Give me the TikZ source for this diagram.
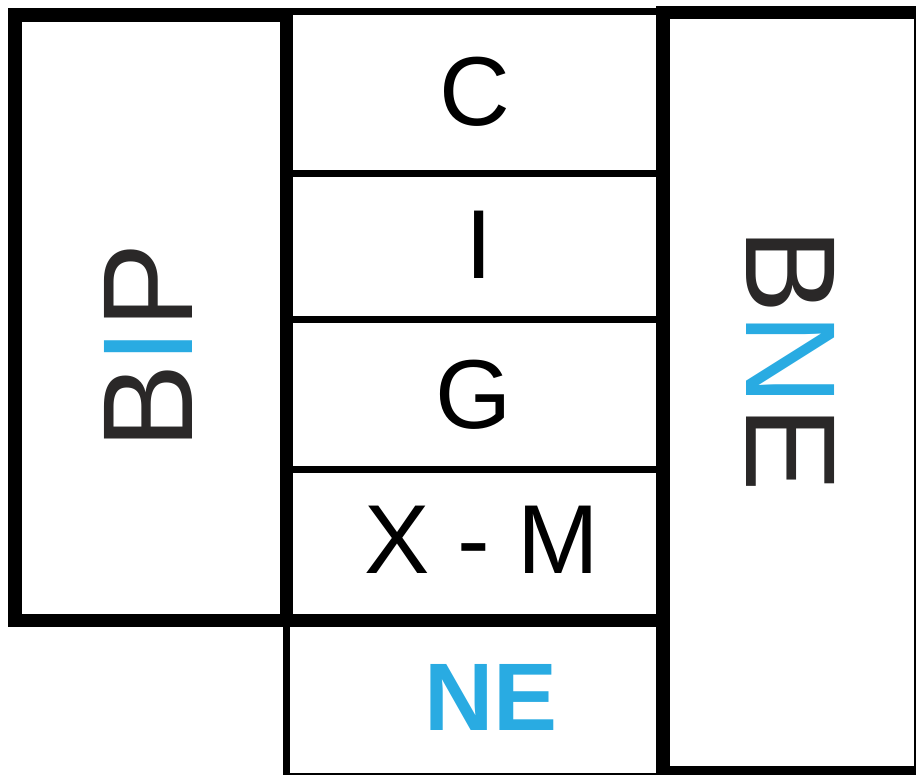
\documentclass[tikz,border=0pt]{standalone}
\usepackage{fontspec}
\setmainfont{Liberation Sans}
\definecolor{nblue}{HTML}{29ABE2}
\definecolor{dgray}{HTML}{2A2828}
\begin{document}
\begin{tikzpicture}[x=1pt,y=-1pt,
  thickline/.style={line width=13.5pt,line cap=rect,line join=miter},
  thinline/.style={line width=7pt,line cap=butt},
  lbl/.style={inner sep=0pt,anchor=base,font=\fontsize{98}{98}\selectfont},
  biglbl/.style={inner sep=0pt,anchor=base,font=\fontsize{128}{128}\selectfont,text=dgray}]
\useasboundingbox (0,0) rectangle (916,775);
\clip (0,0) rectangle (916,775);
% middle column thin lines
\draw[thinline] (286.5,11.5) -- (663,11.5);
\draw[thinline] (286.5,173.3) -- (663,173.3);
\draw[thinline] (286.5,320) -- (663,320);
\draw[thinline] (286.5,470) -- (663,470);
% NE box
\draw[thinline] (286.7,620) -- (286.7,776) -- (663,776);
% thick boxes
\draw[thickline] (15,15) rectangle (286.5,620.5);
\draw[thickline] (286.5,620.5) -- (663,620.5);
\draw[thickline] (663,12.3) rectangle (920.5,773);
% labels
\node[lbl] (c) at (474.5,126) {C};
\node[lbl] (i) at (479,278.3) {I};
\node[lbl] (g) at (473.5,428.5) {G};
\node[lbl] (xm) at (482,573.3) {X - M};
\node[lbl,font=\fontsize{96}{96}\selectfont\bfseries,text=nblue] (ne) at (491,730.7) {NE};
\node[biglbl,rotate=90] (bip) at (192.7,346.7) {B\textcolor{nblue}{I}P};
\node[biglbl,rotate=-90] (bne) at (746,360) {B\textcolor{nblue}{N}E};
\end{tikzpicture}
\end{document}
